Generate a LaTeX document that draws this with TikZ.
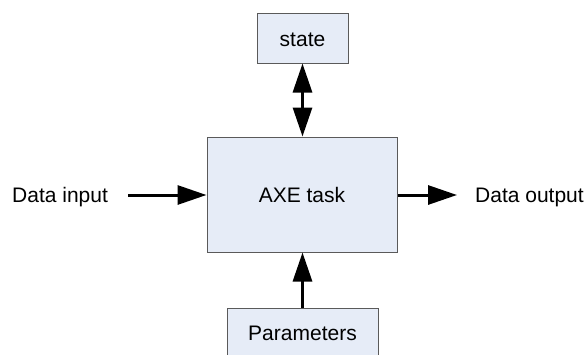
\documentclass[tikz,border=0pt]{standalone}
\usepackage{fontspec}
\setmainfont{Liberation Sans}
\usetikzlibrary{arrows.meta,calc}
\definecolor{boxfill}{HTML}{E6ECF7}
\definecolor{boxline}{HTML}{5A5A5A}
\tikzset{
  block/.style={draw=boxline, line width=1pt, fill=boxfill, inner sep=0pt},
  label/.style={inner sep=0pt, font=\fontsize{21}{25}\selectfont},
  flow/.style={line width=3pt, -{Triangle[length=29pt,width=19pt]}},
  bothflow/.style={line width=3pt, {Triangle[length=29pt,width=19pt]}-{Triangle[length=29pt,width=19pt]}},
}
\begin{document}
\begin{tikzpicture}[x=1pt,y=-1pt]
  \useasboundingbox (0,0) rectangle (587,354);
  \clip (0,0) rectangle (587,354);
  % blocks
  \node[block, minimum width=190pt, minimum height=115pt] (task) at (302,194.5) {};
  \node[block, minimum width=91pt, minimum height=50pt] (state) at (302.5,38) {};
  \node[block, minimum width=151pt, minimum height=60pt] (params) at (302.5,338) {};
  % texts
  \node[label, anchor=base] (tasktxt) at (302,202) {AXE task};
  \node[label, anchor=base] (statetxt) at (302.5,46) {state};
  \node[label, anchor=base] (paramtxt) at (302.5,340) {Parameters};
  \node[label, anchor=base west] (in) at (12,202) {Data input};
  \node[label, anchor=base west] (out) at (475,202) {Data output};
  % connectors
  \coordinate (inend) at (128,195);
  \draw[flow] (inend) -- (task.west |- inend);
  \coordinate (outend) at (457,195);
  \draw[flow] (task.east |- outend) -- (outend);
  \draw[bothflow] (state.south) -- (task.north -| state.south);
  \draw[flow] (params.north) -- (task.south -| params.north);
\end{tikzpicture}
\end{document}
